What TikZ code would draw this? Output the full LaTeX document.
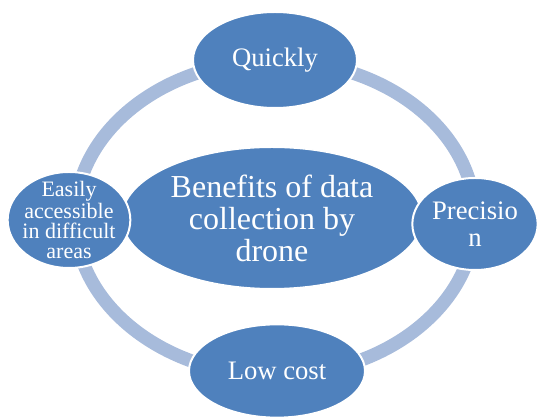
\documentclass[tikz,border=0pt]{standalone}
\usepackage{fontspec}
\setmainfont{Liberation Serif}
\usepackage{tikz}
\usepackage{xcolor}
\usetikzlibrary{shapes.geometric}

\definecolor{petalblue}{RGB}{79,129,189}
\definecolor{ringblue}{RGB}{167,187,219}

\begin{document}
\begin{tikzpicture}[
    x=1pt, y=1pt,
    % Custom styles for the ellipses and their texts
    hubshape/.style={ellipse, fill=petalblue, draw=white, line width=1pt,
        inner sep=0pt, minimum width=225pt, minimum height=106pt},
    petal/.style={ellipse, fill=petalblue, draw=white, line width=1.5pt,
        inner sep=0pt},
    petaltext/.style={text=white, align=center, font=\fontsize{20}{20}\selectfont},
    hubtext/.style={text=white, align=center, font=\fontsize{24}{24}\selectfont},
    % Thick pale ring behind everything
    ring/.style={draw=ringblue, line width=10pt}
]
\useasboundingbox (0,0) rectangle (405,312.75);

% ==========================================
% 1. The Ring and the Hub
% ==========================================
\coordinate (ringc) at (206.25,149.25);
\draw[ring] (ringc) ellipse [x radius=150pt, y radius=118pt];

\node[hubshape, label={[hubtext]center:Benefits of data\\collection by\\drone}]
    (hub) at (204,149.25) {};

% ==========================================
% 2. The four Petals round the ring
% ==========================================
\node[petal, minimum width=123pt, minimum height=72pt,
      label={[petaltext]center:Quickly}] (quick) at (206.25,267.75) {};
\node[petal, minimum width=132pt, minimum height=70pt,
      label={[petaltext]center:Low cost}] (cost) at (207.75,34.5) {};
\node[petal, minimum width=92pt, minimum height=72pt,
      label={[petaltext, font=\fontsize{16.5}{15}\selectfont]center:Easily\\accessible\\in difficult\\areas}]
    (access) at (51.75,147.75) {};
\node[petal, minimum width=94pt, minimum height=69pt,
      label={[petaltext]center:Precisio\\n}]
    (prec) at (356.25,144.75) {};

\end{tikzpicture}
\end{document}
